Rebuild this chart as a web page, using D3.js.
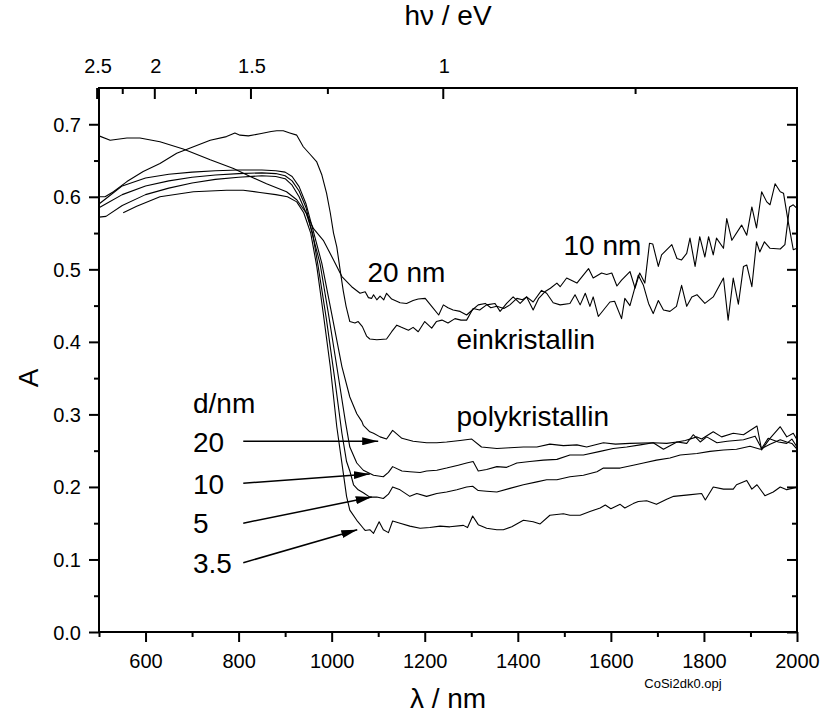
<!DOCTYPE html>
<html>
<head>
<meta charset="utf-8">
<script src="https://cdn.jsdelivr.net/npm/d3@7/dist/d3.min.js"></script>
<style>
  html, body { margin: 0; padding: 0; background: #fff; }
  svg { display: block; }
  text { font-family: "Liberation Sans", Arial, Helvetica, sans-serif; fill: #000; }
</style>
</head>
<body>
<svg id="chart" width="824" height="715"></svg>
<script>
// ---------------- data (wavelength nm, absorbance A) ----------------
const einkristallin20 = [[500,0.684],[524,0.678],[560,0.681],[588,0.681],[631,0.676],[681,0.666],[739,0.651],[789,0.639],[825,0.628],[860,0.618],[903,0.607],[925,0.596],[946,0.577],[961,0.556],[982,0.540],[1004,0.513],[1022,0.490],[1043,0.476],[1061,0.467],[1072,0.469],[1079,0.461],[1086,0.460],[1090,0.465],[1097,0.458],[1104,0.463],[1112,0.458],[1118,0.467],[1129,0.459],[1147,0.454],[1161,0.453],[1175,0.457],[1186,0.459],[1201,0.460],[1215,0.449],[1230,0.437],[1240,0.451],[1250,0.447],[1261,0.444],[1276,0.442],[1290,0.437],[1304,0.445],[1315,0.451],[1330,0.453],[1342,0.447],[1355,0.449],[1370,0.446],[1383,0.451],[1398,0.460],[1410,0.458],[1419,0.462],[1433,0.455],[1451,0.471],[1462,0.467],[1476,0.454],[1491,0.451],[1512,0.453],[1523,0.465],[1534,0.451],[1545,0.467],[1555,0.449],[1562,0.462],[1573,0.435],[1598,0.455],[1608,0.456],[1623,0.432],[1630,0.460],[1641,0.450],[1659,0.492],[1670,0.478],[1681,0.453],[1691,0.439],[1702,0.457],[1713,0.444],[1727,0.442],[1741,0.449],[1752,0.478],[1763,0.449],[1774,0.462],[1785,0.465],[1802,0.453],[1820,0.462],[1842,0.488],[1852,0.430],[1863,0.488],[1874,0.452],[1885,0.504],[1892,0.506],[1903,0.476],[1913,0.538],[1920,0.524],[1930,0.538],[1942,0.529],[1964,0.528],[1974,0.534],[1984,0.586],[1992,0.589],[2000,0.584]];

const einkristallin10 = [[500,0.600],[513,0.600],[531,0.607],[560,0.621],[595,0.635],[631,0.646],[667,0.660],[703,0.669],[739,0.678],[774,0.683],[792,0.688],[803,0.685],[821,0.684],[846,0.687],[870,0.690],[882,0.691],[896,0.691],[910,0.688],[925,0.685],[939,0.669],[953,0.659],[968,0.648],[979,0.630],[989,0.605],[997,0.578],[1004,0.550],[1011,0.531],[1018,0.500],[1025,0.470],[1031,0.449],[1039,0.428],[1050,0.426],[1057,0.428],[1066,0.421],[1075,0.408],[1082,0.404],[1097,0.403],[1118,0.404],[1129,0.414],[1140,0.423],[1150,0.420],[1165,0.416],[1175,0.420],[1186,0.414],[1200,0.428],[1215,0.419],[1225,0.428],[1237,0.430],[1250,0.426],[1265,0.432],[1278,0.430],[1290,0.430],[1304,0.446],[1318,0.444],[1333,0.451],[1351,0.453],[1362,0.442],[1376,0.453],[1390,0.462],[1405,0.453],[1419,0.462],[1433,0.444],[1445,0.460],[1458,0.469],[1470,0.474],[1484,0.481],[1491,0.476],[1505,0.488],[1527,0.481],[1552,0.501],[1562,0.488],[1580,0.495],[1591,0.493],[1602,0.495],[1613,0.477],[1623,0.485],[1641,0.497],[1652,0.474],[1662,0.495],[1673,0.481],[1683,0.536],[1690,0.535],[1702,0.504],[1709,0.520],[1731,0.534],[1742,0.515],[1752,0.513],[1763,0.522],[1770,0.543],[1781,0.504],[1791,0.545],[1802,0.517],[1810,0.545],[1820,0.520],[1827,0.543],[1842,0.529],[1849,0.570],[1860,0.540],[1881,0.561],[1892,0.547],[1903,0.586],[1913,0.557],[1924,0.607],[1935,0.593],[1942,0.589],[1953,0.618],[1964,0.607],[1971,0.605],[1981,0.566],[1992,0.527],[2000,0.529]];

const poly20 = [[500,0.590],[520,0.600],[550,0.615],[600,0.626],[650,0.631],[700,0.634],[750,0.636],[800,0.637],[850,0.637],[880,0.636],[900,0.634],[915,0.628],[930,0.614],[945,0.590],[960,0.554],[979,0.508],[1000,0.439],[1022,0.366],[1039,0.324],[1054,0.301],[1065,0.290],[1068,0.285],[1082,0.276],[1090,0.274],[1104,0.269],[1118,0.266],[1131,0.278],[1151,0.267],[1175,0.263],[1204,0.261],[1226,0.261],[1247,0.262],[1276,0.264],[1301,0.266],[1322,0.255],[1355,0.253],[1383,0.254],[1412,0.255],[1441,0.255],[1469,0.259],[1498,0.257],[1527,0.258],[1548,0.255],[1584,0.261],[1610,0.259],[1641,0.260],[1691,0.261],[1713,0.252],[1742,0.262],[1760,0.264],[1785,0.269],[1795,0.266],[1820,0.276],[1838,0.269],[1863,0.274],[1885,0.272],[1914,0.284],[1924,0.251],[1942,0.267],[1964,0.283],[1978,0.269],[1992,0.274],[2000,0.265]];

const poly10 = [[500,0.585],[520,0.592],[550,0.603],[600,0.615],[650,0.622],[700,0.627],[750,0.630],[800,0.632],[850,0.633],[880,0.632],[900,0.629],[915,0.622],[930,0.608],[945,0.585],[957,0.552],[975,0.508],[993,0.439],[1011,0.366],[1029,0.292],[1039,0.255],[1054,0.233],[1068,0.223],[1090,0.216],[1111,0.214],[1122,0.220],[1131,0.228],[1151,0.222],[1168,0.221],[1190,0.220],[1204,0.222],[1226,0.223],[1247,0.226],[1272,0.230],[1290,0.233],[1304,0.235],[1315,0.222],[1333,0.224],[1355,0.228],[1376,0.227],[1398,0.233],[1426,0.235],[1455,0.237],[1484,0.238],[1512,0.244],[1541,0.244],[1577,0.249],[1605,0.253],[1634,0.255],[1663,0.258],[1691,0.261],[1720,0.260],[1742,0.262],[1763,0.260],[1777,0.272],[1792,0.262],[1806,0.269],[1828,0.261],[1850,0.263],[1885,0.265],[1910,0.270],[1924,0.253],[1938,0.267],[1960,0.262],[1978,0.260],[1989,0.266],[2000,0.255]];

const poly5 = [[500,0.572],[515,0.573],[550,0.588],[600,0.603],[650,0.612],[700,0.619],[750,0.624],[800,0.627],[850,0.629],[880,0.628],[900,0.625],[915,0.616],[930,0.600],[945,0.578],[959,0.550],[971,0.504],[989,0.430],[1007,0.347],[1022,0.274],[1032,0.235],[1039,0.222],[1047,0.203],[1057,0.196],[1068,0.192],[1082,0.186],[1097,0.186],[1111,0.184],[1122,0.190],[1131,0.200],[1147,0.196],[1168,0.187],[1183,0.191],[1204,0.187],[1226,0.191],[1247,0.193],[1269,0.196],[1290,0.200],[1303,0.201],[1315,0.195],[1333,0.194],[1355,0.193],[1383,0.198],[1412,0.203],[1441,0.207],[1462,0.210],[1484,0.210],[1512,0.214],[1541,0.216],[1570,0.221],[1584,0.226],[1620,0.226],[1648,0.230],[1670,0.233],[1698,0.237],[1727,0.240],[1749,0.244],[1785,0.246],[1813,0.249],[1842,0.251],[1870,0.252],[1899,0.256],[1921,0.252],[1942,0.259],[1964,0.265],[1978,0.262],[1989,0.260],[2000,0.252]];

const poly3_5 = [[552,0.578],[581,0.587],[631,0.600],[703,0.607],[774,0.609],[810,0.609],[846,0.606],[880,0.603],[905,0.600],[925,0.593],[940,0.578],[955,0.550],[968,0.504],[982,0.439],[997,0.366],[1011,0.283],[1025,0.219],[1032,0.187],[1039,0.168],[1054,0.154],[1068,0.143],[1072,0.140],[1082,0.141],[1090,0.136],[1102,0.152],[1111,0.141],[1122,0.137],[1131,0.153],[1147,0.150],[1168,0.146],[1190,0.143],[1211,0.144],[1233,0.146],[1254,0.145],[1283,0.147],[1292,0.144],[1303,0.160],[1315,0.148],[1333,0.143],[1355,0.141],[1369,0.141],[1387,0.145],[1412,0.154],[1433,0.152],[1448,0.149],[1469,0.161],[1498,0.163],[1512,0.161],[1534,0.161],[1555,0.166],[1577,0.171],[1588,0.175],[1600,0.170],[1620,0.176],[1630,0.171],[1648,0.177],[1659,0.180],[1677,0.181],[1698,0.176],[1720,0.183],[1735,0.187],[1767,0.189],[1795,0.191],[1803,0.182],[1820,0.200],[1842,0.197],[1863,0.197],[1870,0.203],[1892,0.209],[1903,0.197],[1914,0.203],[1931,0.188],[1949,0.193],[1964,0.200],[1978,0.196],[1989,0.198],[2000,0.200]];

const seriesList = [einkristallin20, einkristallin10, poly20, poly10, poly5, poly3_5];

// ticks
const xMajorTicks = [600, 800, 1000, 1200, 1400, 1600, 1800, 2000];
const xMinorTicks = [500, 700, 900, 1100, 1300, 1500, 1700, 1900];
const yMajorTicks = [0.0, 0.1, 0.2, 0.3, 0.4, 0.5, 0.6, 0.7];
const yMinorTicks = [0.05, 0.15, 0.25, 0.35, 0.45, 0.55, 0.65];
const eVMajorTicks = [2.5, 2, 1.5, 1];
const eVMinorTicks = [2.25, 1.75, 1.25, 0.75];
const eVLabels = ["2.5", "2", "1.5", "1"];

// thickness labels and arrows (data coords: start -> tip)
const dLabels = ["20", "10", "5", "3.5"];
const arrowStart = [[810, 0.263], [810, 0.205], [810, 0.150], [810, 0.0955]];
const arrowTip = [[1100, 0.263], [1082, 0.218], [1086, 0.186], [1055, 0.141]];

// ---------------- drawing ----------------
const HC = 1239.84; // eV*nm
const svg = d3.select("#chart");
const x = d3.scaleLinear().domain([500, 2000]).range([99, 797]);
const y = d3.scaleLinear().domain([0, 0.75]).range([632, 88]);

const tickFont = 20, bigFont = 28;

// curves
const line = d3.line().x(d => x(d[0])).y(d => y(d[1]));
svg.append("g").selectAll("path").data(seriesList).join("path")
  .attr("d", line).attr("fill", "none").attr("stroke", "#000")
  .attr("stroke-width", 1.1).attr("stroke-linejoin", "round");

function styleAxis(g) {
  g.select(".domain").remove();
  g.selectAll(".tick line").attr("stroke", "#000").attr("stroke-width", 2);
  g.selectAll("text").style("font-size", tickFont + "px").attr("fill", "#000");
}

// bottom
svg.append("g").attr("transform", "translate(0,632)")
  .call(d3.axisBottom(x).tickValues(xMajorTicks).tickSize(10).tickFormat(d3.format("d")))
  .call(styleAxis)
  .call(g => g.selectAll("text").attr("y", 36).attr("dy", null));
svg.append("g").attr("transform", "translate(0,632)")
  .call(d3.axisBottom(x).tickValues(xMinorTicks).tickSize(5).tickFormat(""))
  .call(styleAxis);

// left
svg.append("g").attr("transform", "translate(99,0)")
  .call(d3.axisLeft(y).tickValues(yMajorTicks).tickSize(10).tickPadding(8).tickFormat(d3.format(".1f")))
  .call(styleAxis)
  .call(g => g.selectAll("text").attr("dy", "0.35em"));
svg.append("g").attr("transform", "translate(99,0)")
  .call(d3.axisLeft(y).tickValues(yMinorTicks).tickSize(5).tickFormat(""))
  .call(styleAxis);

// right (inward)
svg.append("g").attr("transform", "translate(797,0)")
  .call(d3.axisRight(y).tickValues(yMajorTicks).tickSize(-10).tickFormat(""))
  .call(styleAxis);
svg.append("g").attr("transform", "translate(797,0)")
  .call(d3.axisRight(y).tickValues(yMinorTicks).tickSize(-5).tickFormat(""))
  .call(styleAxis);

// top (photon energy, inward ticks)
const topG = svg.append("g");
topG.selectAll("line.maj").data(eVMajorTicks).join("line")
  .attr("x1", d => x(HC / d)).attr("x2", d => x(HC / d))
  .attr("y1", 88).attr("y2", 99).attr("stroke", "#000").attr("stroke-width", 2);
topG.selectAll("line.min").data(eVMinorTicks).join("line")
  .attr("x1", d => x(HC / d)).attr("x2", d => x(HC / d))
  .attr("y1", 88).attr("y2", 94).attr("stroke", "#000").attr("stroke-width", 2);
topG.selectAll("text").data(eVMajorTicks).join("text")
  .attr("x", d => x(HC / d) + 1).attr("y", 73)
  .attr("text-anchor", "middle").style("font-size", tickFont + "px")
  .text((d, i) => eVLabels[i]);

// frame
svg.append("rect").attr("x", x(500)).attr("y", y(0.75))
  .attr("width", x(2000) - x(500)).attr("height", y(0) - y(0.75))
  .attr("fill", "none").attr("stroke", "#000").attr("stroke-width", 2);

// axis titles
svg.append("text").attr("x", 448).attr("y", 25).attr("text-anchor", "middle")
  .style("font-size", bigFont + "px").text("hν / eV");
svg.append("text").attr("x", 448).attr("y", 708).attr("text-anchor", "middle")
  .style("font-size", bigFont + "px").text("λ / nm");
svg.append("text").attr("transform", "translate(38,378) rotate(-90)").attr("text-anchor", "middle")
  .style("font-size", bigFont + "px").text("A");
svg.append("text").attr("x", 683).attr("y", 688).attr("text-anchor", "middle")
  .style("font-size", "13px").text("CoSi2dk0.opj");

// annotations
const ann = [
  ["20 nm", 367.5, 281.5], ["10 nm", 563.5, 255], ["einkristallin", 456.5, 348.5],
  ["polykristallin", 456.5, 426], ["d/nm", 193, 413]
];
svg.append("g").selectAll("text").data(ann).join("text")
  .attr("x", d => d[1]).attr("y", d => d[2]).style("font-size", bigFont + "px").text(d => d[0]);

const dY = [452, 494, 533, 573];
svg.append("g").selectAll("text").data(dLabels).join("text")
  .attr("x", 193).attr("y", (d, i) => dY[i]).style("font-size", bigFont + "px").text(d => d);

// arrows
svg.append("defs").append("marker").attr("id", "arr")
  .attr("markerUnits", "userSpaceOnUse").attr("markerWidth", 16).attr("markerHeight", 8)
  .attr("refX", 16).attr("refY", 4).attr("orient", "auto")
  .append("path").attr("d", "M0,0L16,4L0,8Z").attr("fill", "#000");
svg.append("g").selectAll("line").data(arrowStart).join("line")
  .attr("x1", d => x(d[0])).attr("y1", d => y(d[1]))
  .attr("x2", (d, i) => x(arrowTip[i][0])).attr("y2", (d, i) => y(arrowTip[i][1]))
  .attr("stroke", "#000").attr("stroke-width", 1.5).attr("marker-end", "url(#arr)");
</script>
</body>
</html>
